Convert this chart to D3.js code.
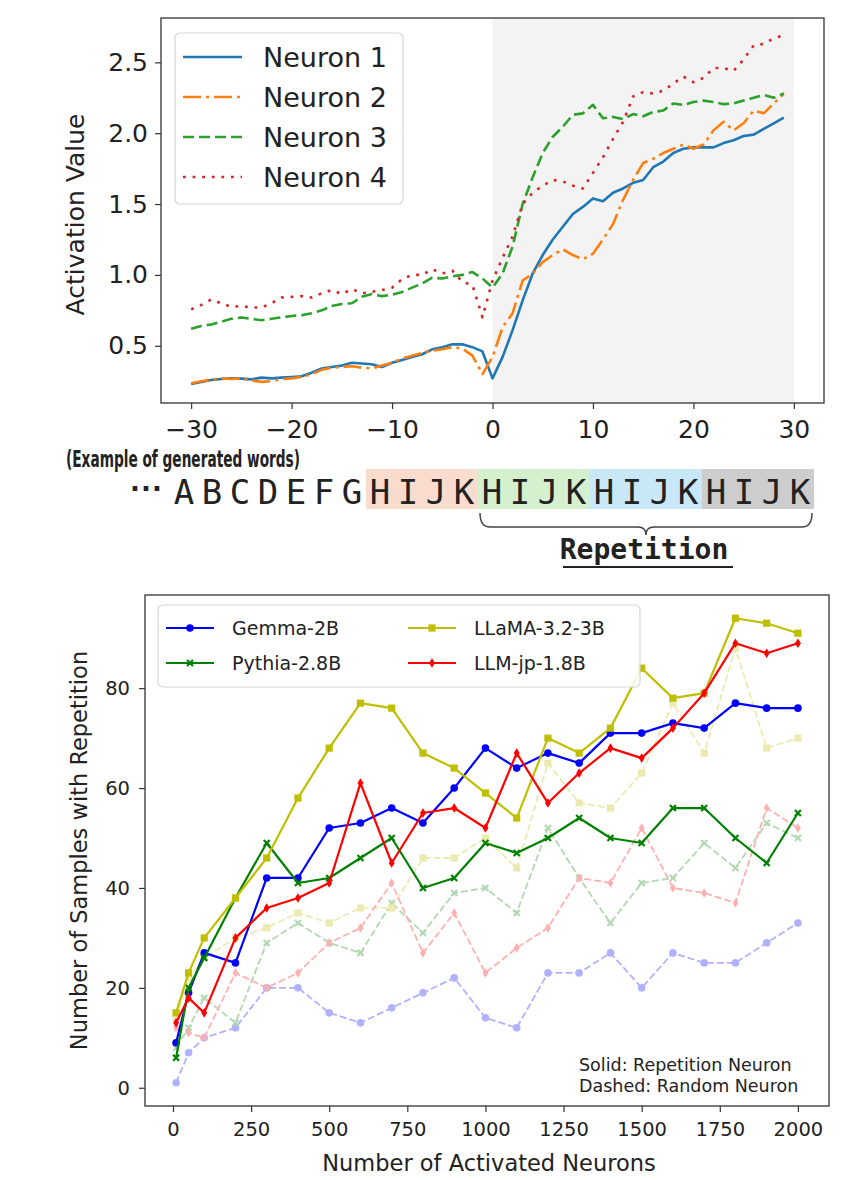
<!DOCTYPE html>
<html>
<head>
<meta charset="utf-8">
<script src="https://cdn.jsdelivr.net/npm/d3@7"></script>
<style>
  body { margin: 0; background: #fff; }
  svg text { font-family: "DejaVu Sans", sans-serif; fill: #222; }
</style>
</head>
<body>
<svg id="fig" width="861" height="1180"></svg>
<script>
// ── Top panel: activation around the repetition onset ──
const positions = d3.range(-30, 30);
const neuronNames = ['Neuron 1', 'Neuron 2', 'Neuron 3', 'Neuron 4'];
const neuron1 = [0.23, 0.245, 0.258, 0.265, 0.27, 0.268, 0.263, 0.275, 0.27, 0.275,
  0.28, 0.285, 0.31, 0.34, 0.35, 0.36, 0.38, 0.375, 0.37, 0.35,
  0.38, 0.40, 0.42, 0.44, 0.475, 0.49, 0.51, 0.51, 0.49, 0.46,
  0.27, 0.42, 0.61, 0.82, 1.01, 1.14, 1.25, 1.34, 1.43, 1.48,
  1.54, 1.52, 1.58, 1.61, 1.65, 1.67, 1.76, 1.80, 1.86, 1.89,
  1.90, 1.90, 1.90, 1.93, 1.95, 1.98, 1.99, 2.03, 2.07, 2.11];
const neuron2 = [0.235, 0.25, 0.26, 0.27, 0.265, 0.27, 0.255, 0.245, 0.25, 0.265,
  0.27, 0.28, 0.30, 0.33, 0.345, 0.35, 0.355, 0.345, 0.34, 0.36,
  0.38, 0.41, 0.43, 0.45, 0.465, 0.475, 0.49, 0.48, 0.43, 0.30,
  0.42, 0.63, 0.73, 0.96, 1.01, 1.09, 1.14, 1.18, 1.14, 1.11,
  1.15, 1.25, 1.36, 1.53, 1.67, 1.79, 1.82, 1.86, 1.89, 1.92,
  1.89, 1.92, 2.02, 2.08, 2.02, 2.07, 2.16, 2.14, 2.21, 2.28];
const neuron3 = [0.62, 0.64, 0.65, 0.67, 0.69, 0.70, 0.69, 0.68, 0.69, 0.70,
  0.71, 0.715, 0.73, 0.75, 0.78, 0.795, 0.80, 0.845, 0.865, 0.85,
  0.86, 0.88, 0.91, 0.94, 0.98, 0.975, 0.99, 1.00, 1.02, 0.975,
  0.91, 1.01, 1.20, 1.50, 1.69, 1.86, 1.975, 2.045, 2.13, 2.14,
  2.20, 2.105, 2.115, 2.10, 2.135, 2.12, 2.15, 2.16, 2.21, 2.20,
  2.22, 2.23, 2.22, 2.205, 2.21, 2.23, 2.25, 2.27, 2.25, 2.28];
const neuron4 = [0.757, 0.787, 0.827, 0.80, 0.775, 0.78, 0.77, 0.77, 0.80, 0.84,
  0.845, 0.85, 0.84, 0.87, 0.893, 0.865, 0.90, 0.87, 0.88, 0.893,
  0.91, 0.97, 1.0, 1.0, 1.04, 1.01, 1.03, 0.95, 0.93, 0.70,
  0.96, 1.12, 1.27, 1.50, 1.58, 1.63, 1.67, 1.66, 1.63, 1.61,
  1.72, 1.83, 1.96, 2.08, 2.26, 2.29, 2.28, 2.30, 2.35, 2.40,
  2.36, 2.39, 2.46, 2.46, 2.44, 2.52, 2.62, 2.63, 2.67, 2.69];
const topXTicks = [-30, -20, -10, 0, 10, 20, 30];
const topYTicks = [0.5, 1.0, 1.5, 2.0, 2.5];

// ── Word strip ──
const leadWords = ['A', 'B', 'C', 'D', 'E', 'F', 'G'];
const repeatWords = ['H', 'I', 'J', 'K'];
const blockColors = ['#f9dccd', '#d5f0cf', '#c9e8f7', '#cdcdcd'];

// ── Bottom panel: samples with repetition vs activated neurons ──
const activated = [10, 50, 100, 200, 300, 400, 500, 600, 700, 800, 900, 1000,
  1100, 1200, 1300, 1400, 1500, 1600, 1700, 1800, 1900, 2000];
const modelNames = ['Gemma-2B', 'Pythia-2.8B', 'LLaMA-3.2-3B', 'LLM-jp-1.8B'];
const gemmaRep  = [9, 19, 27, 25, 42, 42, 52, 53, 56, 53, 60, 68, 64, 67, 65, 71, 71, 73, 72, 77, 76, 76];
const pythiaRep = [6, 20, 26, 38, 49, 41, 42, 46, 50, 40, 42, 49, 47, 50, 54, 50, 49, 56, 56, 50, 45, 55];
const llamaRep  = [15, 23, 30, 38, 46, 58, 68, 77, 76, 67, 64, 59, 54, 70, 67, 72, 84, 78, 79, 94, 93, 91];
const llmjpRep  = [13, 18, 15, 30, 36, 38, 41, 61, 45, 55, 56, 52, 67, 57, 63, 68, 66, 72, 79, 89, 87, 89];
const gemmaRand  = [1, 7, 10, 12, 20, 20, 15, 13, 16, 19, 22, 14, 12, 23, 23, 27, 20, 27, 25, 25, 29, 33];
const pythiaRand = [8, 12, 18, 13, 29, 33, 29, 27, 37, 31, 39, 40, 35, 52, 42, 33, 41, 42, 49, 44, 53, 50];
const llamaRand  = [14, 22, 26, 30, 32, 35, 33, 36, 36, 46, 46, 50, 44, 65, 57, 56, 63, 77, 67, 88, 68, 70];
const llmjpRand  = [12, 11, 10, 23, 20, 23, 29, 32, 41, 27, 35, 23, 28, 32, 42, 41, 52, 40, 39, 37, 56, 52];
const bottomXTicks = [0, 250, 500, 750, 1000, 1250, 1500, 1750, 2000];
const bottomYTicks = [0, 20, 40, 60, 80];

const svg = d3.select('#fig');

function styleAxis(g, size) {
  g.select('.domain').remove();
  g.selectAll('.tick line').attr('stroke', '#333').attr('stroke-width', 1.2);
  g.selectAll('.tick text').attr('fill', '#222').style('font-size', size + 'px');
}

// ════════ TOP PANEL ════════
const T = { l: 161, r: 824, t: 18, b: 403 };
const xTop = d3.scaleLinear().domain([-33, 33]).range([T.l, T.r]);
const yTop = d3.scaleLinear().domain([0.096, 2.813]).range([T.b, T.t]);

// repetition region shading
svg.append('rect')
  .attr('x', xTop(0)).attr('y', T.t)
  .attr('width', xTop(30) - xTop(0)).attr('height', T.b - T.t)
  .attr('fill', '#f3f3f3');

const topSeries = [
  { name: neuronNames[0], vals: neuron1, color: '#1f77b4', dash: null },
  { name: neuronNames[1], vals: neuron2, color: '#ff7f0e', dash: '18,5,3,5' },
  { name: neuronNames[2], vals: neuron3, color: '#2ca02c', dash: '11,5' },
  { name: neuronNames[3], vals: neuron4, color: '#d62728', dash: '2.8,6.8' }
];
const topLine = d3.line().x((d, i) => xTop(positions[i])).y(d => yTop(d));
topSeries.forEach(s => {
  svg.append('path').attr('d', topLine(s.vals))
    .attr('fill', 'none').attr('stroke', s.color).attr('stroke-width', 2.6)
    .attr('stroke-dasharray', s.dash).attr('stroke-linejoin', 'round');
});

svg.append('g').attr('transform', `translate(0,${T.b})`)
  .call(d3.axisBottom(xTop).tickValues(topXTicks).tickFormat(d3.format('d')).tickSize(6).tickPadding(11))
  .call(g => styleAxis(g, 25));
svg.append('g').attr('transform', `translate(${T.l},0)`)
  .call(d3.axisLeft(yTop).tickValues(topYTicks).tickFormat(d3.format('.1f')).tickSize(6).tickPadding(7))
  .call(g => styleAxis(g, 25));
svg.append('rect').attr('x', T.l).attr('y', T.t).attr('width', T.r - T.l).attr('height', T.b - T.t)
  .attr('fill', 'none').attr('stroke', '#333').attr('stroke-width', 1.3);

svg.append('text').attr('transform', `translate(84,${(T.t + T.b) / 2 + 4}) rotate(-90)`)
  .attr('text-anchor', 'middle').style('font-size', '25px').text('Activation Value');

// legend
const topLeg = svg.append('g');
topLeg.append('rect').attr('x', 175).attr('y', 33).attr('width', 228).attr('height', 171)
  .attr('rx', 5).attr('fill', '#fff').attr('fill-opacity', 0.85)
  .attr('stroke', '#d6d6d6').attr('stroke-width', 1.2);
topSeries.forEach((s, i) => {
  const y = 57 + i * 40;
  topLeg.append('line').attr('x1', 183).attr('x2', 242).attr('y1', y).attr('y2', y)
    .attr('stroke', s.color).attr('stroke-width', 2.6).attr('stroke-dasharray', s.dash);
  topLeg.append('text').attr('x', 263).attr('y', y).attr('dy', '0.36em')
    .style('font-size', '27px').text(s.name);
});

// ════════ WORD STRIP ════════
svg.append('text').attr('x', 66).attr('y', 467)
  .attr('textLength', 234).attr('lengthAdjust', 'spacingAndGlyphs')
  .style('font-family', '"Liberation Sans Narrow", "DejaVu Sans Condensed", "DejaVu Sans", sans-serif')
  .style('font-weight', 'bold').style('font-size', '23px')
  .text('(Example of generated words)');

const cellW = 28, firstCell = 170, boxTop = 469, boxH = 40;
const monoFont = '"DejaVu Sans Mono", "Liberation Mono", monospace';
svg.append('text').attr('x', 130).attr('y', 498)
  .attr('textLength', 32).attr('lengthAdjust', 'spacing')
  .style('font-size', '26px').style('font-weight', 'bold').text('···');
leadWords.forEach((w, i) => {
  svg.append('text').attr('x', firstCell + cellW * (i + 0.5)).attr('y', 504)
    .attr('text-anchor', 'middle').style('font-size', '34px').style('font-family', monoFont).text(w);
});
blockColors.forEach((c, b) => {
  const x0 = firstCell + cellW * (leadWords.length + b * repeatWords.length);
  svg.append('rect').attr('x', x0).attr('y', boxTop)
    .attr('width', cellW * repeatWords.length).attr('height', boxH).attr('fill', c);
  repeatWords.forEach((w, i) => {
    svg.append('text').attr('x', x0 + cellW * (i + 0.5)).attr('y', 504)
      .attr('text-anchor', 'middle').style('font-size', '34px').style('font-family', monoFont).text(w);
  });
});
const brL = firstCell + cellW * (leadWords.length + repeatWords.length) + 2;
const brR = firstCell + cellW * (leadWords.length + 4 * repeatWords.length) - 2;
const brM = (brL + brR) / 2;
svg.append('path')
  .attr('d', `M${brL},513 Q${brL},527 ${brL + 10},527 H${brM - 8} Q${brM},527 ${brM},535 Q${brM},527 ${brM + 8},527 H${brR - 10} Q${brR},527 ${brR},513`)
  .attr('fill', 'none').attr('stroke', '#444').attr('stroke-width', 1.5);
svg.append('text').attr('x', brM - 2).attr('y', 559).attr('text-anchor', 'middle')
  .style('font-family', monoFont).style('font-weight', 'bold').style('font-size', '28px')
  .text('Repetition');
svg.append('line').attr('x1', 563).attr('x2', 733).attr('y1', 567).attr('y2', 567)
  .attr('stroke', '#222').attr('stroke-width', 2);

// ════════ BOTTOM PANEL ════════
const B = { l: 145, r: 829, t: 595, b: 1106 };
const xBot = d3.scaleLinear().domain([-89.5, 2099.5]).range([B.l, B.r]);
const yBot = d3.scaleLinear().domain([-3.65, 98.65]).range([B.b, B.t]);

const models = [
  { name: modelNames[0], rep: gemmaRep,  rand: gemmaRand,  color: '#0000ff', marker: 'circle' },
  { name: modelNames[1], rep: pythiaRep, rand: pythiaRand, color: '#008000', marker: 'x' },
  { name: modelNames[2], rep: llamaRep,  rand: llamaRand,  color: '#bfbf00', marker: 'square' },
  { name: modelNames[3], rep: llmjpRep,  rand: llmjpRand,  color: '#ff0000', marker: 'diamond' }
];

function drawMarker(g, kind, x, y, color) {
  if (kind === 'circle') {
    g.append('circle').attr('cx', x).attr('cy', y).attr('r', 3.8).attr('fill', color);
  } else if (kind === 'square') {
    g.append('rect').attr('x', x - 3.6).attr('y', y - 3.6).attr('width', 7.2).attr('height', 7.2).attr('fill', color);
  } else if (kind === 'diamond') {
    g.append('path').attr('d', `M${x},${y - 4.8} L${x + 3},${y} L${x},${y + 4.8} L${x - 3},${y} Z`).attr('fill', color);
  } else {
    g.append('path').attr('d', `M${x - 3},${y - 3} L${x + 3},${y + 3} M${x - 3},${y + 3} L${x + 3},${y - 3}`)
      .attr('stroke', color).attr('stroke-width', 2.2).attr('fill', 'none');
  }
}

const botLine = d3.line().x((d, i) => xBot(activated[i])).y(d => yBot(d));
const randLayer = svg.append('g').attr('opacity', 0.3);
const repLayer = svg.append('g');
models.forEach(m => {
  const g = randLayer.append('g');
  g.append('path').attr('d', botLine(m.rand)).attr('fill', 'none')
    .attr('stroke', m.color).attr('stroke-width', 1.8).attr('stroke-dasharray', '7,3');
  m.rand.forEach((v, i) => drawMarker(g, m.marker, xBot(activated[i]), yBot(v), m.color));
});
models.forEach(m => {
  const g = repLayer.append('g');
  g.append('path').attr('d', botLine(m.rep)).attr('fill', 'none')
    .attr('stroke', m.color).attr('stroke-width', 2.2).attr('stroke-linejoin', 'round');
  m.rep.forEach((v, i) => drawMarker(g, m.marker, xBot(activated[i]), yBot(v), m.color));
});

svg.append('g').attr('transform', `translate(0,${B.b})`)
  .call(d3.axisBottom(xBot).tickValues(bottomXTicks).tickFormat(d3.format('d')).tickSize(6).tickPadding(10))
  .call(g => styleAxis(g, 19.5));
svg.append('g').attr('transform', `translate(${B.l},0)`)
  .call(d3.axisLeft(yBot).tickValues(bottomYTicks).tickFormat(d3.format('d')).tickSize(6).tickPadding(9))
  .call(g => styleAxis(g, 19.5));
svg.append('rect').attr('x', B.l).attr('y', B.t).attr('width', B.r - B.l).attr('height', B.b - B.t)
  .attr('fill', 'none').attr('stroke', '#333').attr('stroke-width', 1.3);

svg.append('text').attr('x', (B.l + B.r) / 2 + 2).attr('y', 1171).attr('text-anchor', 'middle')
  .style('font-size', '22.5px').text('Number of Activated Neurons');
svg.append('text').attr('transform', `translate(87,${(B.t + B.b) / 2}) rotate(-90)`)
  .attr('text-anchor', 'middle').style('font-size', '22.5px').text('Number of Samples with Repetition');

// legend (two columns: Gemma/Pythia, then LLaMA/LLM-jp)
const botLeg = svg.append('g');
botLeg.append('rect').attr('x', 158).attr('y', 605).attr('width', 482).attr('height', 82)
  .attr('rx', 5).attr('fill', '#fff').attr('fill-opacity', 0.85)
  .attr('stroke', '#d6d6d6').attr('stroke-width', 1.2);
const legCols = [166, 408], legRows = [628, 663];
models.forEach((m, k) => {
  const x0 = legCols[Math.floor(k / 2)], y = legRows[k % 2];
  botLeg.append('line').attr('x1', x0).attr('x2', x0 + 48).attr('y1', y).attr('y2', y)
    .attr('stroke', m.color).attr('stroke-width', 2.2);
  drawMarker(botLeg, m.marker, x0 + 24, y, m.color);
  botLeg.append('text').attr('x', x0 + 66).attr('y', y).attr('dy', '0.36em')
    .style('font-size', '19px').text(m.name);
});

svg.append('text').attr('x', 579).attr('y', 1071).style('font-size', '17.5px').text('Solid: Repetition Neuron');
svg.append('text').attr('x', 579).attr('y', 1092).style('font-size', '17.5px').text('Dashed: Random Neuron');
</script>
</body>
</html>
